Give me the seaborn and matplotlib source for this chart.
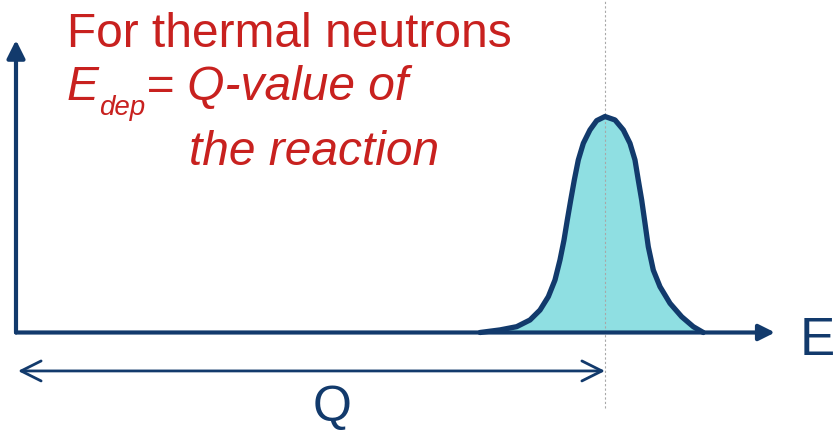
import matplotlib
matplotlib.use("Agg")
import matplotlib.pyplot as plt
import seaborn as sns
import pandas as pd

# Deposited-energy spectrum for thermal-neutron capture (schematic)
energy = [0.7878, 0.8217, 0.8501, 0.8727, 0.8897, 0.9038, 0.9151, 0.9236,
          0.9304, 0.9360, 0.9418, 0.9479, 0.9547, 0.9632, 0.9745, 0.9859,
          1.0000, 1.0170, 1.0311, 1.0424, 1.0509, 1.0565, 1.0623, 1.0679,
          1.0735, 1.0820, 1.0934, 1.1104, 1.1302, 1.1499, 1.1669]
counts = [0.000, 0.012, 0.027, 0.058, 0.104, 0.166, 0.243, 0.336,
          0.428, 0.521, 0.613, 0.706, 0.799, 0.876, 0.938, 0.981,
          1.000, 0.984, 0.938, 0.876, 0.799, 0.706, 0.613, 0.506,
          0.397, 0.289, 0.212, 0.135, 0.073, 0.027, 0.000]
q_value = 1.0

NAVY = "#123a6c"
FILL = "#8fdfe2"
RED = "#c8211f"

df = pd.DataFrame({"E": energy, "counts": counts})

sns.set_theme(style="white")
plt.rcParams["font.family"] = ["Liberation Sans", "DejaVu Sans"]

fig = plt.figure(figsize=(8.38, 4.33), dpi=100)
ax = fig.add_axes([0, 0, 1, 1])
ax.set_xlim(-0.02716, 1.39559)
ax.set_ylim(-0.4653, 1.5394)
ax.axis("off")

# peak
ax.fill_between(df["E"], 0, df["counts"], color=FILL, lw=0, zorder=1)
sns.lineplot(data=df, x="E", y="counts", sort=False, ax=ax, color=NAVY,
             lw=3.8, zorder=3, solid_joinstyle="round", solid_capstyle="round")

# dotted marker at the Q-value
ax.plot([q_value, q_value], [-0.35, 1.539], color="#a8a8a8", lw=0.8,
        ls=(0, (2, 2)), zorder=2)

# axes drawn as arrows
ax.annotate("", xy=(1.2886, 0), xytext=(0, 0),
            arrowprops=dict(arrowstyle="-|>,head_length=0.8,head_width=0.4",
                            color=NAVY, lw=3.0, shrinkA=0, shrinkB=0),
            zorder=4)
ax.annotate("", xy=(0, 1.354), xytext=(0, 0),
            arrowprops=dict(arrowstyle="-|>,head_length=0.9,head_width=0.45",
                            color=NAVY, lw=3.0, shrinkA=0, shrinkB=0),
            zorder=4)

# Q span
ax.annotate("", xy=(0.0034, -0.178), xytext=(q_value, -0.178),
            arrowprops=dict(arrowstyle="<->,head_length=1.2,head_width=0.6",
                            color=NAVY, lw=2.0, shrinkA=0, shrinkB=0))

W, H = 838, 433
def px(x, y):
    return x / W, 1 - y / H

# axis labels
fig.text(*px(800, 355), "E", color=NAVY, fontsize=38, ha="left",
         va="baseline")
fig.text(*px(332, 421), "Q", color=NAVY, fontsize=36, ha="center",
         va="baseline")

fig.text(*px(67, 47), "For thermal neutrons", color=RED, fontsize=34.5,
         ha="left", va="baseline")
fig.text(*px(67, 100), "E", color=RED, fontsize=34.5, style="italic",
         ha="left", va="baseline")
fig.text(*px(99, 115), "dep", color=RED, fontsize=20, style="italic",
         ha="left", va="baseline")
fig.text(*px(146, 100), "= Q-value of", color=RED, fontsize=34.5,
         style="italic", ha="left", va="baseline")
fig.text(*px(189, 165), "the reaction", color=RED, fontsize=34.5,
         style="italic", ha="left", va="baseline")

fig.savefig("out.png", dpi=100)
